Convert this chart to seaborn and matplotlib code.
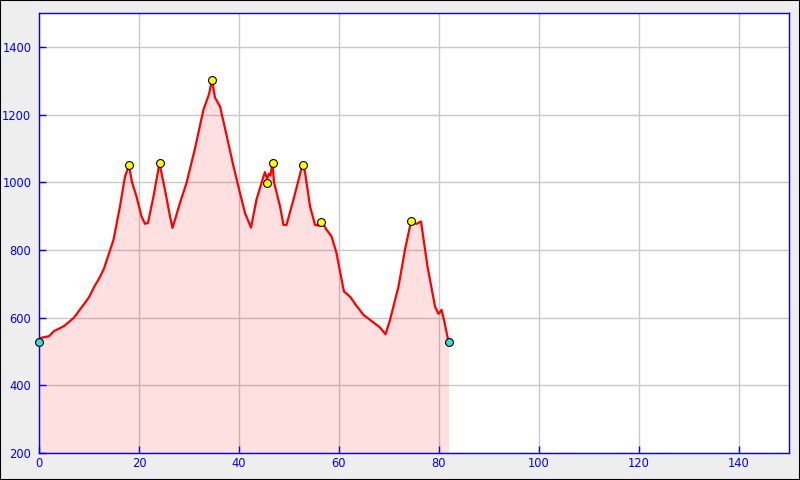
import matplotlib
matplotlib.use("Agg")
import matplotlib.pyplot as plt
import numpy as np
import pandas as pd
import seaborn as sns
from matplotlib.patches import Rectangle

# elevation profile (km, m)
dist = [0.0, 0.3, 2, 3, 5, 7, 9, 10, 11, 12, 13, 14, 14.9, 16.2, 17.2, 18.0,
        18.6, 19.5, 20.5, 21.2, 21.8, 22.9, 24.1, 24.6, 25.2, 26.2, 26.7,
        28.2, 29.5, 31.2, 32.9, 34.0, 34.6, 35.2, 36.2, 37.5, 38.9, 40.2,
        41.2, 42.4, 43.5, 44.9, 45.2, 45.6, 46.0, 46.3, 46.7, 47.0, 48.2,
        48.9, 49.5, 50.9, 52.7, 53.2, 54.2, 55.2, 56.0, 56.6, 57.5, 58.5,
        59.5, 60.2, 61.0, 62.2, 63.5, 64.9, 66.5, 68.2, 69.3, 70.2, 71.9,
        73.2, 74.4, 75.5, 76.4, 77.7, 78.2, 79.2, 79.9, 80.5, 81.0, 81.9]
elev = [528, 540, 545, 560, 575, 600, 640, 660, 690, 715, 745, 790, 830,
        929, 1017, 1050, 1000, 958, 899, 877, 880, 958, 1057, 1020, 978, 899,
        865, 939, 998, 1100, 1215, 1260, 1303, 1250, 1224, 1140, 1047, 968,
        909, 866, 949, 1017, 1030, 1010, 1025, 1020, 1057, 1000, 929, 874,
        874, 949, 1052, 1030, 929, 874, 872, 883, 860, 840, 791, 736, 677,
        662, 635, 608, 590, 571, 551, 593, 692, 801, 884, 877, 884, 751, 712,
        633, 611, 623, 593, 529]

peak_x = [18.0, 24.1, 34.6, 45.6, 46.7, 52.7, 56.4, 74.4]
peak_y = [1052, 1057, 1303, 998, 1057, 1052, 883, 884]
end_x = [0.0, 81.9]
end_y = [528, 528]

x_ticks = [0, 20, 40, 60, 80, 100, 120, 140]
y_ticks = [200, 400, 600, 800, 1000, 1200, 1400]

sns.set_theme(style="white")
plt.rcParams["font.family"] = ["DejaVu Sans"]

df = pd.DataFrame({"dist": dist, "elev": elev})
peaks = pd.DataFrame({"x": peak_x, "y": peak_y})
ends = pd.DataFrame({"x": end_x, "y": end_y})

fig = plt.figure(figsize=(8, 4.8), dpi=100, facecolor="#eeeeee")
fig.patches.append(Rectangle((0, 0), 1, 1, transform=fig.transFigure,
                             fill=False, edgecolor="black", linewidth=1.5))
ax = fig.add_axes([0.04875, 0.05625, 0.9375, 0.91667])
ax.set_facecolor("white")

ax.set_axisbelow(True)
ax.grid(True, color="#c8c8c8", linewidth=1)
ax.fill_between(df["dist"], df["elev"], 200, color="red", alpha=0.12,
                linewidth=0, zorder=2)
sns.lineplot(data=df, x="dist", y="elev", ax=ax, color="red", linewidth=1.6,
             zorder=3, sort=False)
sns.scatterplot(data=peaks, x="x", y="y", ax=ax, color="yellow",
                edgecolor="black", linewidth=0.8, s=32, zorder=4)
sns.scatterplot(data=ends, x="x", y="y", ax=ax, color="#33dddd",
                edgecolor="black", linewidth=0.8, s=32, zorder=4, clip_on=False)

ax.set_xlim(0, 150)
ax.set_ylim(200, 1500)
ax.set_xticks(x_ticks)
ax.set_yticks(y_ticks)
ax.set_xlabel("")
ax.set_ylabel("")
for s in ax.spines.values():
    s.set_color("#0000ff")
    s.set_linewidth(1)
ax.tick_params(axis="both", direction="in", length=5, width=1, colors="#0000ff",
               labelsize=8.3, labelcolor="#0000ff")
ax.tick_params(axis="y", pad=5.5)
ax.tick_params(axis="x", pad=3)
ax.tick_params(left=True, bottom=True, top=False, right=False)

fig.savefig("out.png", dpi=100, facecolor=fig.get_facecolor())
